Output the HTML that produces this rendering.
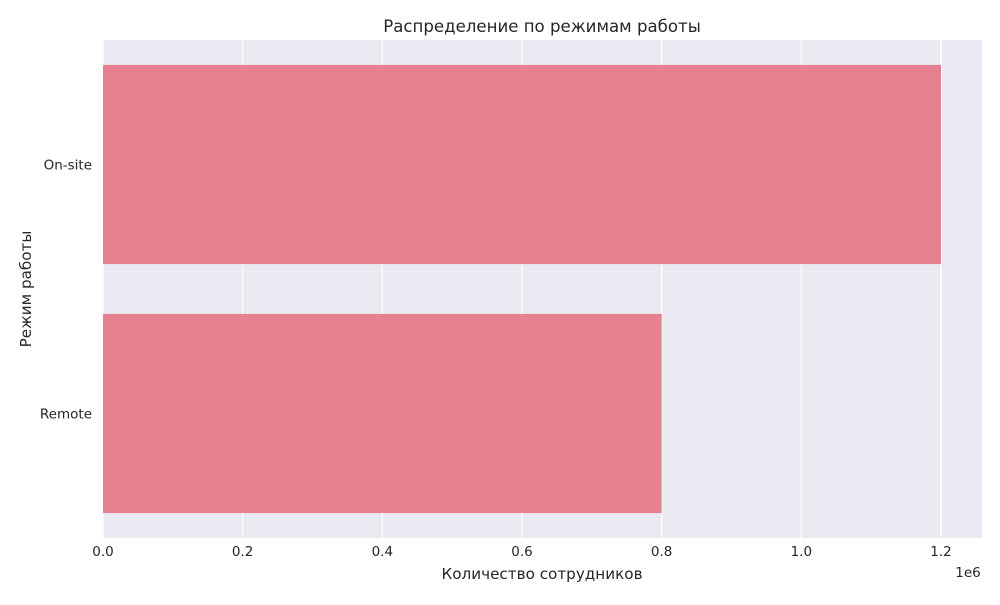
<!DOCTYPE html>
<html><head><meta charset="utf-8"><style>
body{margin:0;background:#fff;font-family:"Liberation Sans","DejaVu Sans",sans-serif}
</style></head><body>
<svg id="chart" width="1000" height="600" xmlns="http://www.w3.org/2000/svg">
<text x="542" y="32" text-anchor="middle" font-size="16.6" fill="#262626" font-family="DejaVu Sans, sans-serif">Распределение по режимам работы</text>
<rect x="103" y="40" width="879" height="498" fill="#eaeaf2"/>
<g id="grid"></g><g id="bars"></g><g id="xticks"></g><g id="yticks"></g>
<text x="968" y="577" text-anchor="middle" font-size="13.5" fill="#262626" font-family="DejaVu Sans, sans-serif">1e6</text>
<text x="542" y="579" text-anchor="middle" font-size="15.2" fill="#262626" font-family="DejaVu Sans, sans-serif">Количество сотрудников</text>
<text transform="translate(31,289) rotate(-90)" text-anchor="middle" font-size="15.2" fill="#262626" font-family="DejaVu Sans, sans-serif">Режим работы</text>
</svg>
<script>
const categories=["On-site","Remote"];
const values=[1200000,800000];
const tickValues=[0,0.2e6,0.4e6,0.6e6,0.8e6,1.0e6,1.2e6];
const tickLabels=["0.0","0.2","0.4","0.6","0.8","1.0","1.2"];
const NS="http://www.w3.org/2000/svg";
const x0=103,x1=982,xmax=1.2587e6,y0=40,y1=538;
const xs=v=>x0+v/xmax*(x1-x0);
const band=(y1-y0)/categories.length;
function mk(t,a,p){const e=document.createElementNS(NS,t);for(const k in a)e.setAttribute(k,a[k]);p.appendChild(e);return e;}
const g=document.getElementById('grid'),b=document.getElementById('bars'),xt=document.getElementById('xticks'),yt=document.getElementById('yticks');
tickValues.forEach((v,i)=>{
 const l=mk('line',{x1:xs(v),x2:xs(v),y1:y0,y2:y1,stroke:'#fff','stroke-width':1.3},g);
 
 
 const t=mk('text',{x:xs(v),y:556,'text-anchor':'middle','font-size':13.5,fill:'#262626','font-family':'DejaVu Sans, sans-serif'},xt);
 t.textContent=tickLabels[i];
 
 
});
categories.forEach((c,i)=>{
 const cy=y0+band*(i+0.5),h=band*0.8;
 const r=mk('rect',{x:x0,y:cy-h/2,width:xs(values[i])-x0,height:h,fill:'#e78192'},b);
 
 
 const t=mk('text',{x:92,y:cy+5,'text-anchor':'end','font-size':13.5,fill:'#262626','font-family':'DejaVu Sans, sans-serif'},yt);
 t.textContent=c;
 
 
});
</script>
</body></html>
